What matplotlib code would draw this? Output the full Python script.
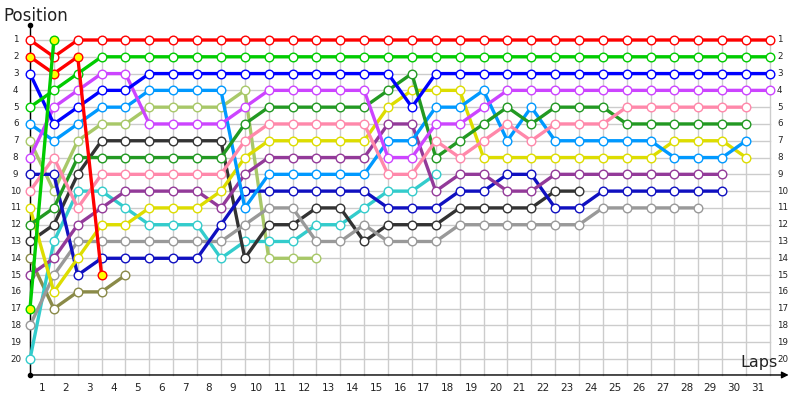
import matplotlib
matplotlib.use("Agg")
import matplotlib.pyplot as plt

# positions per lap, starting at lap 0 (grid)
red_a = [1, 2, 1, 1, 1, 1, 1, 1, 1, 1, 1, 1, 1, 1, 1, 1, 1, 1, 1, 1, 1, 1, 1, 1, 1, 1, 1, 1, 1, 1, 1, 1]
green_a = [5, 4, 3, 2, 2, 2, 2, 2, 2, 2, 2, 2, 2, 2, 2, 2, 2, 2, 2, 2, 2, 2, 2, 2, 2, 2, 2, 2, 2, 2, 2, 2]
blue = [3, 6, 5, 4, 4, 3, 3, 3, 3, 3, 3, 3, 3, 3, 3, 3, 5, 3, 3, 3, 3, 3, 3, 3, 3, 3, 3, 3, 3, 3, 3, 3]
violet = [8, 5, 4, 3, 3, 6, 6, 6, 6, 5, 4, 4, 4, 4, 4, 8, 8, 6, 6, 5, 4, 4, 4, 4, 4, 4, 4, 4, 4, 4, 4, 4]
pink = [10, 8, 11, 9, 9, 9, 9, 9, 9, 7, 6, 6, 6, 6, 6, 9, 9, 7, 8, 7, 6, 7, 6, 6, 6, 5, 5, 5, 5, 5, 5]
dark_green = [12, 11, 8, 8, 8, 8, 8, 8, 8, 6, 5, 5, 5, 5, 5, 4, 3, 8, 7, 6, 5, 6, 5, 5, 5, 6, 6, 6, 6, 6, 6]
sky = [6, 7, 6, 5, 5, 4, 4, 4, 4, 11, 9, 9, 9, 9, 9, 7, 7, 5, 5, 4, 7, 5, 7, 7, 7, 7, 7, 8, 8, 8, 7]
yellow = [11, 16, 14, 12, 12, 11, 11, 11, 10, 8, 7, 7, 7, 7, 7, 5, 4, 4, 4, 8, 8, 8, 8, 8, 8, 8, 8, 7, 7, 7, 8]
purple = [15, 14, 12, 11, 10, 10, 10, 10, 11, 9, 8, 8, 8, 8, 8, 6, 6, 10, 9, 9, 10, 10, 9, 9, 9, 9, 9, 9, 9, 9]
navy = [9, 9, 15, 14, 14, 14, 14, 14, 12, 10, 10, 10, 10, 10, 10, 11, 11, 11, 10, 10, 9, 9, 11, 11, 10, 10, 10, 10, 10, 10]
gray = [18, 15, 13, 13, 13, 13, 13, 13, 13, 12, 11, 11, 13, 13, 12, 13, 13, 13, 12, 12, 12, 12, 12, 12, 11, 11, 11, 11, 11]
dark_gray = [13, 12, 9, 7, 7, 7, 7, 7, 7, 14, 12, 12, 11, 11, 13, 12, 12, 12, 11, 11, 11, 11, 10, 10]
cyan = [20, 13, 10, 10, 11, 12, 12, 12, 14, 13, 13, 13, 12, 12, 11, 10, 10, 9]
light_green = [7, 10, 7, 6, 6, 5, 5, 5, 5, 4, 14, 14, 14]
olive = [14, 17, 16, 16, 15]
red_b = [2, 3, 2, 15]
green_b = [17, 1]

laps = list(range(1, 32))
pos_labels = list(range(1, 21))

# (data, line colour, marker face)
series = [
    (olive, '#8a8a48', 'white'),
    (light_green, '#a8c868', 'white'),
    (cyan, '#33cccc', 'white'),
    (dark_gray, '#333333', 'white'),
    (gray, '#999999', 'white'),
    (navy, '#1010c0', 'white'),
    (purple, '#933a99', 'white'),
    (yellow, '#dddd00', 'white'),
    (sky, '#0099ff', 'white'),
    (dark_green, '#229922', 'white'),
    (pink, '#ff88aa', 'white'),
    (violet, '#cc44ff', 'white'),
    (blue, '#0000ff', 'white'),
    (green_a, '#00cc00', 'white'),
    (red_a, '#ff0000', 'white'),
    (red_b, '#ff0000', '#ffff00'),
    (green_b, '#00cc00', '#ffff00'),
]

fig = plt.figure(figsize=(8, 4), dpi=100)
ax = fig.add_axes([0, 0, 1, 1])
ax.set_xlim(-1.257, 32.26)
ax.set_ylim(22.44, -1.382)
ax.axis('off')

# grid
for p in pos_labels:
    ax.plot([0, 31], [p, p], color='#cccccc', lw=1, zorder=1)
for k in range(0, 32):
    ax.plot([k, k], [1, 20.95], color='#cccccc', lw=1, zorder=1)

# axes with arrows
ax.plot([0, 0], [20.95, 0.107], color='black', lw=1, zorder=2)
ax.plot([0], [0.107], 'o', color='black', ms=3, zorder=2)
ax.plot([0], [20.95], 'o', color='black', ms=3, zorder=2)
ax.annotate('', xy=(31.9, 20.95), xytext=(0, 20.95),
            arrowprops=dict(arrowstyle='-|>', color='black', lw=1, mutation_scale=10), zorder=2)

for i, (vals, col, face) in enumerate(series):
    ax.plot(range(len(vals)), vals, color=col, lw=2.4, marker='o', ms=6.2,
            mfc=face, mec=col, mew=1, zorder=3 + i)

for p in pos_labels:
    ax.text(-0.6, p, str(p), ha='center', va='center', fontsize=6.3, color='#222222')
    ax.text(31.3, p, str(p), ha='left', va='center', fontsize=6.3, color='#222222')
for k in laps:
    ax.text(k - 0.5, 21.73, str(k), ha='center', va='center', fontsize=7.5, color='#222222')

ax.text(-1.1, -0.45, 'Position', ha='left', va='center', fontsize=12, color='#222222')
ax.text(30.55, 20.2, 'Laps', ha='center', va='center', fontsize=11.5, color='#222222')

fig.savefig('out.png', dpi=100)
